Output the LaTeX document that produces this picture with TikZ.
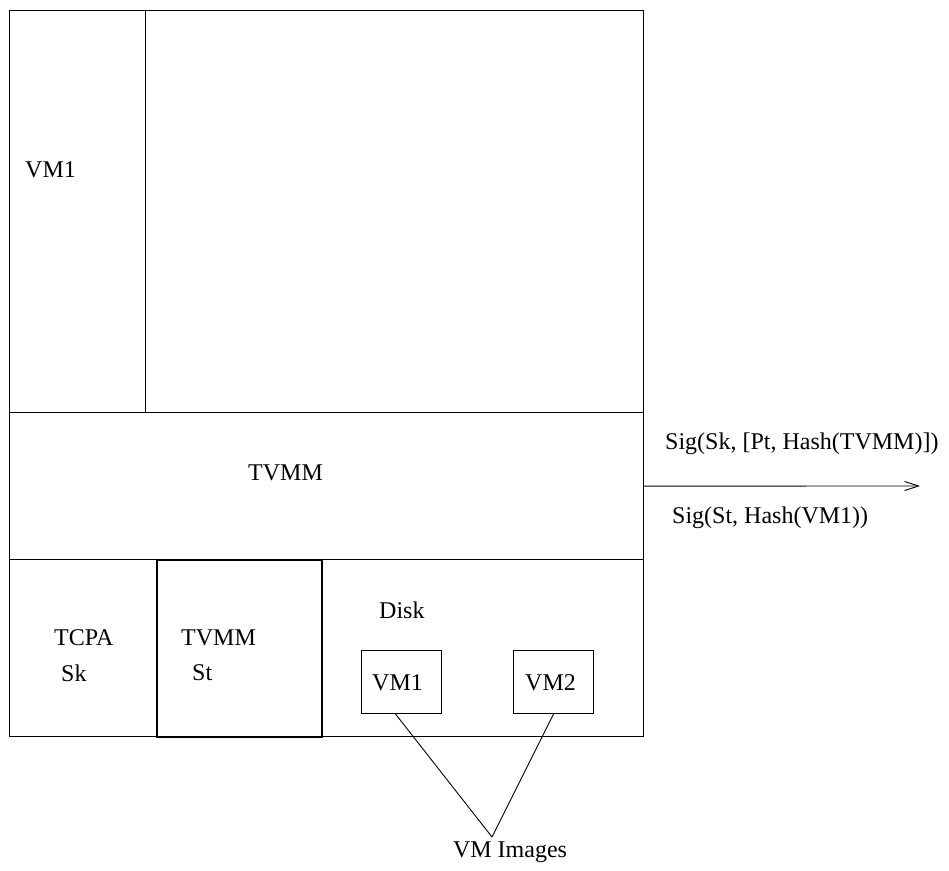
\documentclass[tikz,border=0pt]{standalone}
\usepackage{fontspec}
\setmainfont{Liberation Serif}
\usetikzlibrary{arrows.meta}
\tikzset{
  box/.style={draw, line width=1.2pt, inner sep=0pt, anchor=north west},
  thickbox/.style={box, line width=1.8pt},
  lbl/.style={inner sep=0pt, anchor=west, font=\fontsize{24}{28}\selectfont},
  link/.style={draw, line width=0.9pt},
}
\begin{document}
\begin{tikzpicture}[x=1pt,y=-1pt]
  \useasboundingbox (0,0) rectangle (949,870);

  % upper host area with the VM1 column
  \node[box, minimum width=634pt, minimum height=402pt] (host) at (9,10) {};
  \node[box, minimum width=136pt, minimum height=402pt] (vm) at (9,10) {};
  \node[lbl] at (25,170) {VM1};

  % TVMM layer
  \node[box, minimum width=634pt, minimum height=147pt] (tvmm) at (9,412) {};
  \node[lbl] at (248,473) {TVMM};

  % hardware row
  \node[box, minimum width=147pt, minimum height=177pt] (tcpa) at (9,559) {};
  \node[lbl] at (54,638) {TCPA};
  \node[lbl] at (61,673) {Sk};
  \node[box, minimum width=322pt, minimum height=177pt] (disk) at (321,559) {};
  \node[thickbox, minimum width=165pt, minimum height=177pt] (tst) at (156,559) {};
  \node[lbl] at (181,638) {TVMM};
  \node[lbl] at (192,673) {St};
  \node[lbl] at (379,610) {Disk};

  % stored VM images
  \node[box, line width=1pt, minimum width=80pt, minimum height=63pt] (imgA) at (361,650) {};
  \node[lbl] at (372,683) {VM1};
  \node[box, line width=1pt, minimum width=80pt, minimum height=63pt] (imgB) at (513,650) {};
  \node[lbl] at (525,683) {VM2};

  \coordinate (join) at (492,837);
  \node[lbl, anchor=north] (imglbl) at (510,842) {VM Images};
  \draw[link] ([xshift=-6pt]imgA.south) -- (join);
  \draw[link] (imgB.south) -- (join);

  % attestation output
  \coordinate (out) at (920,486);
  \draw[line width=0.9pt, -{Straight Barb[length=14pt,width=9pt,line width=0.9pt]}] (tvmm.east) -- (out);
  \node[lbl] at (665,444) {Sig(Sk, [Pt, Hash(TVMM)])};
  \node[lbl] at (672,518) {Sig(St, Hash(VM1))};
\end{tikzpicture}
\end{document}
